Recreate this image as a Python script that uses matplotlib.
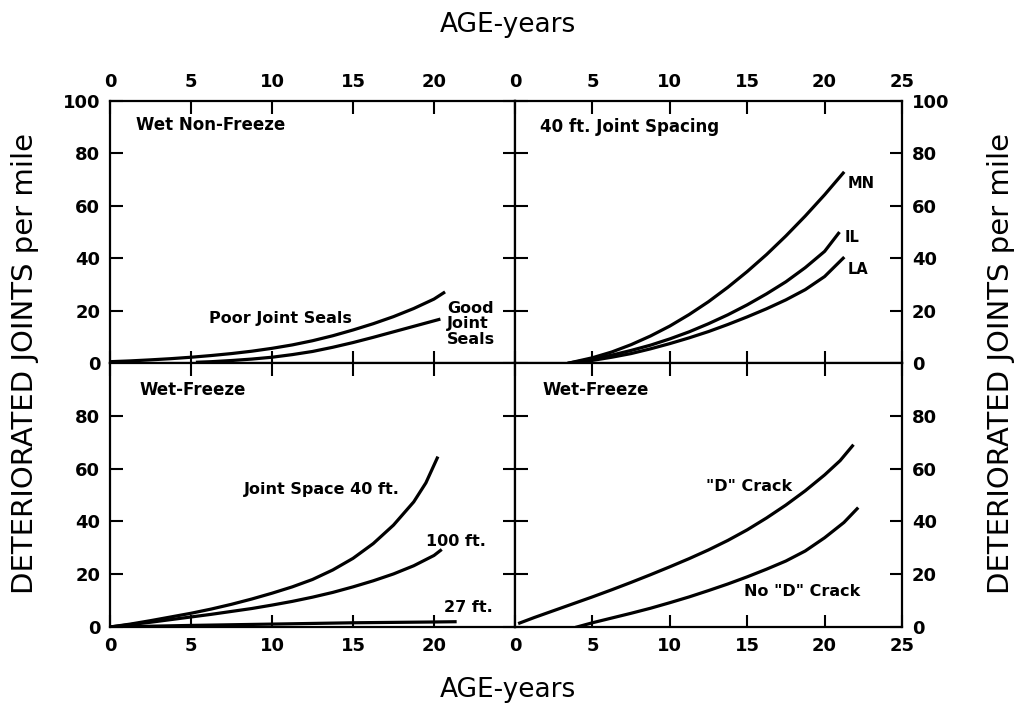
import numpy as np
import matplotlib
matplotlib.use("Agg")
import matplotlib.pyplot as plt

plt.rcParams['font.family'] = ['DejaVu Sans']

# ---- data (age in years, deteriorated joints per mile)
# Wet Non-Freeze
poor_x = [0, 1.25, 2.5, 3.75, 5, 6.25, 7.5, 8.75, 10, 11.25, 12.5, 13.75, 15, 16.25, 17.5, 18.75, 20, 20.6]
poor_y = [0.5, 0.8, 1.2, 1.65, 2.2, 2.85, 3.6, 4.5, 5.6, 6.9, 8.5, 10.4, 12.6, 15.0, 17.7, 20.8, 24.4, 26.8]
good_x = [5.4, 6.25, 7.5, 8.75, 10, 11.25, 12.5, 13.75, 15, 16.25, 17.5, 18.75, 20.3]
good_y = [0.3, 0.5, 0.95, 1.5, 2.2, 3.2, 4.4, 6.0, 7.8, 9.8, 11.9, 14.0, 16.6]

# 40 ft. joint spacing
mn_x = [3.5, 5, 6.25, 7.5, 8.75, 10, 11.25, 12.5, 13.75, 15, 16.25, 17.5, 18.75, 20, 21.2]
mn_y = [0, 2.0, 4.2, 7.0, 10.3, 14.1, 18.5, 23.4, 28.9, 34.9, 41.4, 48.5, 56.1, 64.2, 72.5]
il_x = [3.5, 5, 6.25, 7.5, 8.75, 10, 11.25, 12.5, 13.75, 15, 16.25, 17.5, 18.75, 20, 20.9]
il_y = [0, 1.5, 3.0, 4.8, 6.8, 9.2, 11.9, 15.0, 18.4, 22.2, 26.4, 31.0, 36.4, 42.6, 49.5]
la_x = [4, 5, 6.25, 7.5, 8.75, 10, 11.25, 12.5, 13.75, 15, 16.25, 17.5, 18.75, 20, 21.2]
la_y = [0, 1.0, 2.2, 3.6, 5.4, 7.4, 9.6, 12.0, 14.7, 17.6, 20.7, 24.1, 28.0, 33.0, 40.0]

# Wet-Freeze, joint spacing
js40_x = [0, 1.25, 2.5, 3.75, 5, 6.25, 7.5, 8.75, 10, 11.25, 12.5, 13.75, 15, 16.25, 17.5, 18.75, 19.5, 20.2]
js40_y = [0, 1.1, 2.4, 3.8, 5.2, 6.8, 8.6, 10.6, 12.8, 15.2, 18.0, 21.6, 26.0, 31.6, 38.6, 47.4, 54.6, 64.0]
js100_x = [0, 1.25, 2.5, 3.75, 5, 6.25, 7.5, 8.75, 10, 11.25, 12.5, 13.75, 15, 16.25, 17.5, 18.75, 20, 20.4]
js100_y = [0, 0.9, 1.8, 2.8, 3.8, 4.8, 5.9, 7.0, 8.3, 9.7, 11.3, 13.1, 15.2, 17.5, 20.1, 23.2, 27.1, 29.0]
js27_x = [0, 5, 10, 15, 20, 21.3]
js27_y = [0, 0.6, 1.1, 1.6, 1.9, 2.0]

# Wet-Freeze, D cracking
dc_x = [0.3, 1.25, 2.5, 3.75, 5, 6.25, 7.5, 8.75, 10, 11.25, 12.5, 13.75, 15, 16.25, 17.5, 18.75, 20, 21, 21.8]
dc_y = [1.5, 3.6, 6.2, 8.8, 11.4, 14.1, 16.9, 19.8, 22.8, 25.9, 29.2, 32.8, 36.8, 41.3, 46.2, 51.6, 57.6, 63.0, 68.6]
nodc_x = [4, 5, 6.25, 7.5, 8.75, 10, 11.25, 12.5, 13.75, 15, 16.25, 17.5, 18.75, 20, 21.25, 22.1]
nodc_y = [0, 1.6, 3.4, 5.2, 7.1, 9.2, 11.4, 13.8, 16.3, 19.0, 21.9, 25.0, 28.8, 33.8, 39.6, 44.8]

left_xt = [0, 5, 10, 15, 20]
right_xt = [0, 5, 10, 15, 20, 25]
top_yt = [0, 20, 40, 60, 80, 100]
bot_yt = [0, 20, 40, 60, 80]

W, H = 1022, 709
fig = plt.figure(figsize=(W / 100, H / 100), dpi=100)

xl, xm, xr = 110 / W, 515 / W, 902 / W
yt, ym, yb = 1 - 101 / H, 1 - 363 / H, 1 - 627 / H

ax_tl = fig.add_axes([xl, ym, xm - xl, yt - ym])
ax_tr = fig.add_axes([xm, ym, xr - xm, yt - ym])
ax_bl = fig.add_axes([xl, yb, xm - xl, ym - yb])
ax_br = fig.add_axes([xm, yb, xr - xm, ym - yb])

for ax in (ax_tl, ax_tr, ax_bl, ax_br):
    ax.set_xlim(0, 25)
    ax.set_ylim(0, 100)
    for s in ax.spines.values():
        s.set_linewidth(1.6)
    ax.tick_params(direction='in', length=9, width=1.5, top=True, bottom=True,
                   left=True, right=True, labelsize=13, pad=7)

ax_tl.set_xticks(left_xt)
ax_tl.set_yticks(top_yt)
ax_tl.tick_params(labeltop=True, labelbottom=False, labelleft=True, labelright=False)

ax_tr.set_xticks(right_xt)
ax_tr.set_yticks(top_yt)
ax_tr.tick_params(labeltop=True, labelbottom=False, labelleft=False, labelright=True)

ax_bl.set_xticks(left_xt)
ax_bl.set_yticks(bot_yt)
ax_bl.tick_params(labeltop=False, labelbottom=True, labelleft=True, labelright=False)

ax_br.set_xticks(right_xt)
ax_br.set_yticks(bot_yt)
ax_br.tick_params(labeltop=False, labelbottom=True, labelleft=False, labelright=True)

for ax in (ax_tl, ax_tr, ax_bl, ax_br):
    for lab in ax.get_xticklabels() + ax.get_yticklabels():
        lab.set_fontweight('bold')

lw = 2.3
tfs = 12
afs = 11.5

# top left
ax_tl.plot(poor_x, poor_y, color='black', lw=lw)
ax_tl.plot(good_x, good_y, color='black', lw=lw)
ax_tl.text(1.6, 91, 'Wet Non-Freeze', fontsize=tfs, va='center', fontweight='semibold')
ax_tl.text(10.5, 17, 'Poor Joint Seals', fontsize=afs, ha='center', va='center', fontweight='semibold')
ax_tl.text(20.8, 15, 'Good\nJoint\nSeals', fontsize=afs, ha='left', va='center',
           fontweight='semibold', linespacing=1.05)

# top right
ax_tr.plot(mn_x, mn_y, color='black', lw=lw)
ax_tr.plot(il_x, il_y, color='black', lw=lw)
ax_tr.plot(la_x, la_y, color='black', lw=lw)
ax_tr.text(1.6, 90, '40 ft. Joint Spacing', fontsize=tfs, va='center', fontweight='semibold')
ax_tr.text(21.5, 68.5, 'MN', fontsize=afs - 1, va='center', fontweight='semibold')
ax_tr.text(21.3, 48, 'IL', fontsize=afs - 1, va='center', fontweight='semibold')
ax_tr.text(21.5, 35.5, 'LA', fontsize=afs - 1, va='center', fontweight='semibold')

# bottom left
ax_bl.plot(js40_x, js40_y, color='black', lw=lw)
ax_bl.plot(js100_x, js100_y, color='black', lw=lw)
ax_bl.plot(js27_x, js27_y, color='black', lw=lw)
ax_bl.text(1.8, 89.6, 'Wet-Freeze', fontsize=tfs, va='center', fontweight='semibold')
ax_bl.text(17.9, 52.2, 'Joint Space 40 ft.', fontsize=afs, ha='right', va='center', fontweight='semibold')
ax_bl.text(19.5, 32.5, '100 ft.', fontsize=afs, ha='left', va='center', fontweight='semibold')
ax_bl.text(20.6, 7.2, '27 ft.', fontsize=afs, ha='left', va='center', fontweight='semibold')

# bottom right
ax_br.plot(dc_x, dc_y, color='black', lw=lw)
ax_br.plot(nodc_x, nodc_y, color='black', lw=lw)
ax_br.text(1.8, 89.6, 'Wet-Freeze', fontsize=tfs, va='center', fontweight='semibold')
ax_br.text(17.9, 53.4, '"D" Crack', fontsize=afs, ha='right', va='center', fontweight='semibold')
ax_br.text(14.8, 13.5, 'No "D" Crack', fontsize=afs, ha='left', va='center', fontweight='semibold')

# outer labels
fig.text(508 / W, 1 - 25 / H, 'AGE-years', fontsize=19, ha='center', va='center')
fig.text(508 / W, 1 - 690 / H, 'AGE-years', fontsize=19, ha='center', va='center')
fig.text(25 / W, 1 - 364 / H, 'DETERIORATED JOINTS per mile', fontsize=21,
         rotation=90, ha='center', va='center')
fig.text(1001 / W, 1 - 364 / H, 'DETERIORATED JOINTS per mile', fontsize=21,
         rotation=90, ha='center', va='center')

fig.savefig('out.png', dpi=100)
